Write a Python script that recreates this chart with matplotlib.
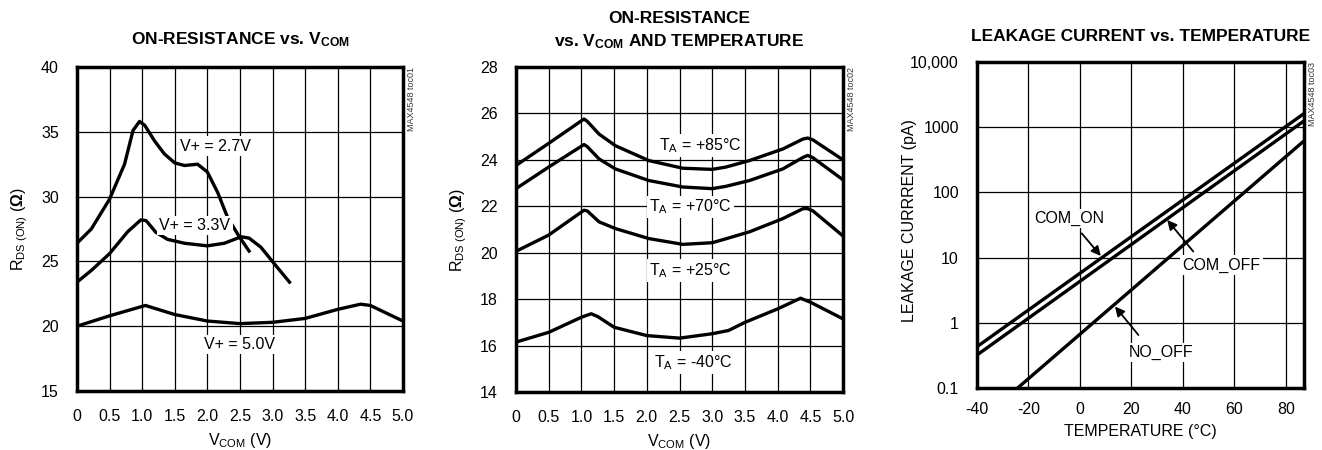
import matplotlib
matplotlib.use('Agg')
import matplotlib.pyplot as plt
from matplotlib import font_manager

names = {f.name for f in font_manager.fontManager.ttflist}
FONT = 'Liberation Sans Narrow' if 'Liberation Sans Narrow' in names else 'Liberation Sans'
plt.rcParams['font.family'] = [FONT, 'DejaVu Sans']
plt.rcParams['mathtext.fontset'] = 'custom'
plt.rcParams['mathtext.rm'] = FONT
plt.rcParams['mathtext.it'] = FONT
plt.rcParams['mathtext.bf'] = FONT + ':bold'
plt.rcParams['axes.unicode_minus'] = False

# ---- panel 1: on-resistance vs VCOM
v27_x = [0, 0.22, 0.5, 0.73, 0.86, 0.96, 1.04, 1.19, 1.34, 1.5, 1.65, 1.85, 2.0, 2.16, 2.31, 2.49, 2.64]
v27_y = [26.4, 27.5, 29.8, 32.5, 35.1, 35.8, 35.5, 34.3, 33.3, 32.6, 32.4, 32.5, 31.9, 30.3, 28.4, 26.9, 25.8]
v33_x = [0, 0.22, 0.5, 0.78, 0.98, 1.06, 1.21, 1.39, 1.65, 2.0, 2.26, 2.52, 2.64, 2.82, 3.03, 3.26]
v33_y = [23.4, 24.3, 25.6, 27.3, 28.2, 28.15, 27.25, 26.7, 26.4, 26.2, 26.4, 26.9, 26.8, 26.1, 24.8, 23.4]
v50_x = [0, 0.5, 1.05, 1.5, 2.0, 2.5, 3.0, 3.5, 4.0, 4.35, 4.5, 5.0]
v50_y = [20.0, 20.8, 21.6, 20.9, 20.4, 20.2, 20.3, 20.6, 21.3, 21.7, 21.6, 20.4]

# ---- panel 2: on-resistance vs VCOM and temperature
t_x = [0, 0.5, 1.04, 1.09, 1.27, 1.52, 2.03, 2.55, 3.0, 3.21, 3.57, 4.08, 4.39, 4.46, 4.54, 5.0]
t85 = [23.76, 24.71, 25.76, 25.66, 25.11, 24.61, 23.97, 23.64, 23.59, 23.69, 23.97, 24.47, 24.9, 24.94, 24.86, 24.0]
t70 = [22.76, 23.69, 24.66, 24.57, 24.04, 23.61, 23.11, 22.83, 22.76, 22.86, 23.11, 23.61, 24.11, 24.19, 24.09, 23.14]
t25 = [20.06, 20.76, 21.83, 21.8, 21.33, 21.04, 20.61, 20.36, 20.43, 20.6, 20.9, 21.47, 21.9, 21.9, 21.8, 20.72]
tm40_x = [0, 0.5, 1.0, 1.15, 1.25, 1.5, 2.0, 2.5, 3.0, 3.25, 3.5, 4.0, 4.35, 4.5, 5.0]
tm40 = [16.15, 16.57, 17.22, 17.37, 17.25, 16.79, 16.43, 16.32, 16.51, 16.65, 17.0, 17.58, 18.04, 17.87, 17.15]

# ---- panel 3: leakage current vs temperature
temp = [-40, 87]
com_on = [0.43, 1620]
com_off = [0.32, 1250]
no_off_t = [-24.2, 87]
no_off = [0.1, 617]

LW = 2.4
TXT = dict(fontsize=11.5, ha='center', va='center',
           bbox=dict(fc='white', ec='none', pad=1.5))

fig = plt.figure(figsize=(13.22, 4.5), dpi=100)


def frame(ax, code):
    for s in ax.spines.values():
        s.set_linewidth(2.5)
    ax.grid(True, color='black', lw=0.9)
    ax.set_axisbelow(True)
    ax.tick_params(length=0, labelsize=11.5, pad=13)
    ax.text(1.025, 1.0, code, transform=ax.transAxes, rotation=90,
            fontsize=6.5, ha='center', va='top', color='#333333')


# panel 1
ax1 = fig.add_axes([0.0582, 0.1311, 0.2466, 0.72])
ax1.plot(v27_x, v27_y, 'k-', lw=LW)
ax1.plot(v33_x, v33_y, 'k-', lw=LW)
ax1.plot(v50_x, v50_y, 'k-', lw=LW)
ax1.set_xlim(0, 5)
ax1.set_ylim(15, 40)
ax1.set_xticks([0, 0.5, 1, 1.5, 2, 2.5, 3, 3.5, 4, 4.5, 5])
ax1.set_xticklabels(['0', '0.5', '1.0', '1.5', '2.0', '2.5', '3.0', '3.5', '4.0', '4.5', '5.0'])
ax1.set_yticks([15, 20, 25, 30, 35, 40])
frame(ax1, 'MAX4548 toc01')
ax1.set_title(r'ON-RESISTANCE vs. $\mathbf{V_{COM}}$', fontsize=12.5, fontweight='bold', pad=16)
ax1.set_xlabel(r'V$_{\rm COM}$ (V)', fontsize=11.5, labelpad=5)
ax1.set_ylabel(r'R$_{\rm DS\ (ON)}$ ($\mathbf{\Omega}$)', fontsize=11.5, labelpad=8)
ax1.text(2.13, 33.9, 'V+ = 2.7V', **TXT)
ax1.text(1.81, 27.8, 'V+ = 3.3V', **TXT)
ax1.text(2.5, 18.6, 'V+ = 5.0V', **TXT)

# panel 2
ax2 = fig.add_axes([0.3903, 0.1289, 0.2474, 0.7222])
ax2.plot(t_x, t85, 'k-', lw=LW)
ax2.plot(t_x, t70, 'k-', lw=LW)
ax2.plot(t_x, t25, 'k-', lw=LW)
ax2.plot(tm40_x, tm40, 'k-', lw=LW)
ax2.set_xlim(0, 5)
ax2.set_ylim(14, 28)
ax2.set_xticks([0, 0.5, 1, 1.5, 2, 2.5, 3, 3.5, 4, 4.5, 5])
ax2.set_xticklabels(['0', '0.5', '1.0', '1.5', '2.0', '2.5', '3.0', '3.5', '4.0', '4.5', '5.0'])
ax2.set_yticks([14, 16, 18, 20, 22, 24, 26, 28])
frame(ax2, 'MAX4548 toc02')
ax2.set_title('ON-RESISTANCE\n' + r'vs. $\mathbf{V_{COM}}$ AND TEMPERATURE',
              fontsize=12.5, fontweight='bold', pad=15, linespacing=1.45)
ax2.set_xlabel(r'V$_{\rm COM}$ (V)', fontsize=11.5, labelpad=5)
ax2.set_ylabel(r'R$_{\rm DS\ (ON)}$ ($\mathbf{\Omega}$)', fontsize=11.5, labelpad=8)
ax2.text(2.82, 24.62, r'T$_{\rm A}$ = +85°C', **TXT)
ax2.text(2.67, 21.97, r'T$_{\rm A}$ = +70°C', **TXT)
ax2.text(2.67, 19.24, r'T$_{\rm A}$ = +25°C', **TXT)
ax2.text(2.71, 15.28, r'T$_{\rm A}$ = -40°C', **TXT)

# panel 3
ax3 = fig.add_axes([0.739, 0.1378, 0.2474, 0.7244])
ax3.plot(temp, com_on, 'k-', lw=LW)
ax3.plot(temp, com_off, 'k-', lw=LW)
ax3.plot(no_off_t, no_off, 'k-', lw=LW)
ax3.set_yscale('log')
ax3.set_xlim(-40, 87)
ax3.set_ylim(0.1, 10000)
ax3.set_xticks([-40, -20, 0, 20, 40, 60, 80])
ax3.set_yticks([0.1, 1, 10, 100, 1000, 10000])
ax3.set_yticklabels(['0.1', '1', '10', '100', '1000', '10,000'])
ax3.minorticks_off()
frame(ax3, 'MAX4548 toc03')
ax3.tick_params(axis='x', pad=10)
ax3.set_title('LEAKAGE CURRENT vs. TEMPERATURE', fontsize=12.5, fontweight='bold', pad=15)
ax3.set_xlabel('TEMPERATURE (°C)', fontsize=11.5, labelpad=5)
ax3.set_ylabel('LEAKAGE CURRRENT (pA)', fontsize=11.5)
ax3.yaxis.set_label_coords(-0.183, 0.515)
arr = dict(arrowstyle='-|>', color='black', lw=1.3, mutation_scale=14,
           shrinkA=0, shrinkB=0)
ax3.text(-4.2, 40, 'COM_ON', **TXT)
ax3.annotate('', xy=(8.1, 10.6), xytext=(0.7, 23.5), arrowprops=arr)
ax3.text(55, 7.7, 'COM_OFF', **TXT)
ax3.annotate('', xy=(33.9, 37.8), xytext=(44, 12.4), arrowprops=arr)
ax3.text(31.3, 0.35, 'NO_OFF', **TXT)
ax3.annotate('', xy=(13.6, 1.78), xytext=(22.7, 0.65), arrowprops=arr)

fig.savefig('out.png', dpi=100)
